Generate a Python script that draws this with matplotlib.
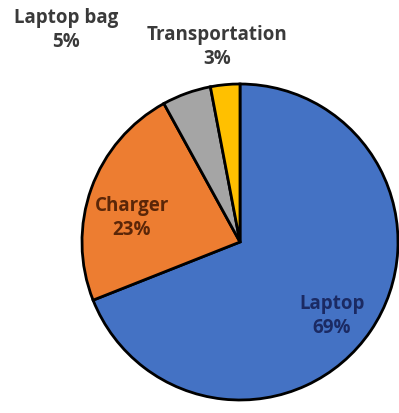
import matplotlib.pyplot as plt

# share of cost per item
items = ['Laptop', 'Charger', 'Laptop bag', 'Transportation']
shares = [69, 23, 5, 3]
colors = ['#4472C4', '#ED7D31', '#A5A5A5', '#FFC000']
label_colors = ['#1B2A63', '#5A2608', '#3A3A3A', '#3A3A3A']
# label anchor points (pixels, y measured up from bottom)
label_pos = [(332, 98), (132, 196), (66, 384), (217, 367)]

fig = plt.figure(figsize=(3.99, 4.14), dpi=100)
ax = fig.add_axes([0, 0, 1, 1])

ax.pie(shares, colors=colors, startangle=90, counterclock=False,
       center=(240, 171), radius=158,
       wedgeprops=dict(edgecolor='black', linewidth=2))

# pie() resets the limits, so fix them afterwards
ax.set_xlim(0, 399)
ax.set_ylim(0, 414)
ax.set_aspect('equal')
ax.axis('off')

for name, val, col, (x, y) in zip(items, shares, label_colors, label_pos):
    ax.text(x, y, '{}\n{}%'.format(name, val), ha='center', va='center',
            color=col, fontsize=13.5, fontweight='bold', family='Open Sans',
            linespacing=1.25)

plt.savefig('out.png', dpi=100)
